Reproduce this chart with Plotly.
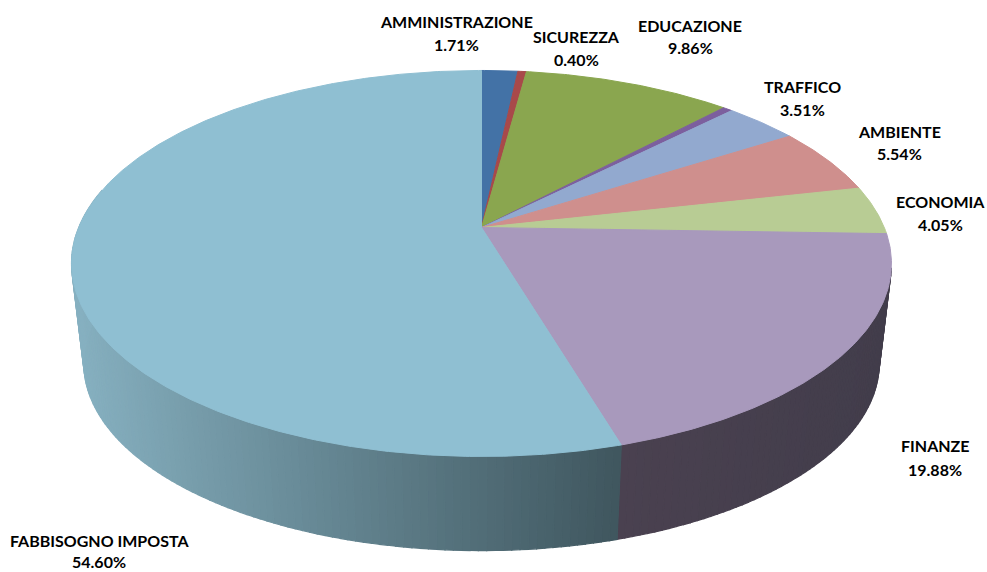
import math
import plotly.graph_objects as go

# Data, clockwise from 12 o'clock
categories = ["AMMINISTRAZIONE", "SICUREZZA", "EDUCAZIONE", "", "TRAFFICO", "AMBIENTE", "ECONOMIA", "FINANZE", "FABBISOGNO IMPOSTA"]
values = [1.71, 0.40, 9.86, 0.45, 3.51, 5.54, 4.05, 19.88, 54.60]
colors = ["#4372A6", "#A8494A", "#8AA64F", "#7C5F9E", "#92A9CF", "#CF8F8D", "#B8CC94", "#A899BC", "#8FBFD2"]
# Label centre (x, y of name line) and distance to the percentage line
label_places = {
    "AMMINISTRAZIONE": (456, 21, 23), "SICUREZZA": (576, 36, 23), "EDUCAZIONE": (690, 25, 22),
    "TRAFFICO": (802, 86, 23), "AMBIENTE": (899, 131, 22), "ECONOMIA": (940, 201, 23),
    "FINANZE": (935, 445, 24), "FABBISOGNO IMPOSTA": (99, 540, 21),
}
# Side wall colour at the left and right ends of each visible wall
side_gradients = {
    "FINANZE": ((74, 65, 80), (66, 61, 75)),
    "FABBISOGNO IMPOSTA": ((134, 176, 192), (63, 86, 94)),
}

# Perspective projection of the pie
CX, CY, A, B, K = 481.5, 227.5, 402.8, 186.3, 0.1864
SCALE_LOW, CY_LOW = 0.97, 328.5


def project(theta_deg, low=False):
    t = math.radians(theta_deg)
    u, v = math.sin(t), -math.cos(t)
    d = 1 - K * v
    s = SCALE_LOW if low else 1.0
    return CX + s * A * u / d, (CY_LOW if low else CY) + s * B * v / d


def frange(a, b, step):
    n = max(1, int(math.ceil((b - a) / step)))
    return [a + (b - a) * i / n for i in range(n + 1)]


fig = go.Figure()
total = sum(values)
spans, c = [], 0.0
for val in values:
    spans.append((c, c + val / total * 360))
    c += val / total * 360

# Side walls (only the slices that face the viewer)
for name, (a, b) in zip(categories, spans):
    if name not in side_gradients:
        continue
    c_left, c_right = side_gradients[name]
    angs = frange(max(a, 102), min(b, 282), 1.0)
    xs_all = [project(t)[0] for t in angs]
    lo, hi = min(xs_all), max(xs_all)
    for t0, t1 in zip(angs[:-1], angs[1:]):
        x0, y0 = project(t0)
        x1, y1 = project(t1)
        x2, y2 = project(t1, True)
        x3, y3 = project(t0, True)
        f = ((x0 + x1) / 2 - lo) / (hi - lo)
        col = "rgb(%d,%d,%d)" % tuple(round(p + (q - p) * f) for p, q in zip(c_left, c_right))
        fig.add_trace(go.Scatter(x=[x0, x1, x2, x3, x0], y=[y0, y1, y2, y3, y0], mode="lines",
                                 fill="toself", fillcolor=col, line=dict(color=col, width=1.2),
                                 hoverinfo="skip", showlegend=False))

# Top face
for name, (a, b), col in zip(categories, spans, colors):
    pts = [project(t) for t in frange(a, b, 0.5)]
    xs = [CX] + [p[0] for p in pts] + [CX]
    ys = [CY] + [p[1] for p in pts] + [CY]
    fig.add_trace(go.Scatter(x=xs, y=ys, mode="lines", fill="toself", fillcolor=col,
                             line=dict(color=col, width=1), name=name or "ALTRO",
                             hoverinfo="name", showlegend=False))

# Labels
for name, val in zip(categories, values):
    if name not in label_places:
        continue
    lx, ly, gap = label_places[name]
    for txt, dy in ((name, 0), (f"{val:.2f}%", gap)):
        fig.add_annotation(x=lx, y=ly + dy, text=txt, showarrow=False, xanchor="center", yanchor="middle",
                           font=dict(family="Lato", size=16, color="#000000", weight="bold"))

fig.update_layout(
    width=987, height=572, margin=dict(l=0, r=0, t=0, b=0),
    paper_bgcolor="white", plot_bgcolor="white", showlegend=False,
    xaxis=dict(range=[0, 987], visible=False, fixedrange=True),
    yaxis=dict(range=[572, 0], visible=False, fixedrange=True),
)
fig.write_html("out.html", post_script="document.body.style.margin='0';", config={"displayModeBar": False})
